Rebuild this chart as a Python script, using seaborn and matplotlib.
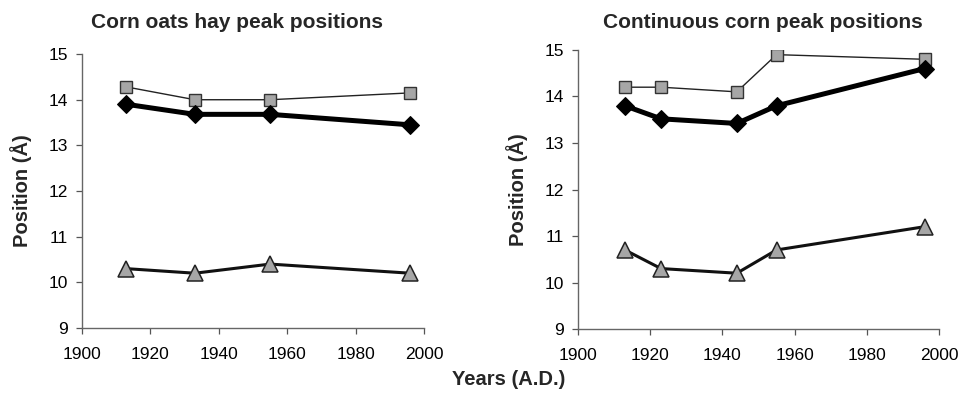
import matplotlib
matplotlib.use("Agg")
import matplotlib.pyplot as plt
import seaborn as sns

# ---- data ----
coh_years = [1913, 1933, 1955, 1996]
coh_square = [14.28, 14.0, 14.0, 14.15]
coh_diamond = [13.9, 13.68, 13.68, 13.45]
coh_triangle = [10.3, 10.2, 10.4, 10.2]

cc_years = [1913, 1923, 1944, 1955, 1996]
cc_square = [14.2, 14.2, 14.1, 14.9, 14.8]
cc_diamond = [13.8, 13.52, 13.42, 13.8, 14.6]
cc_triangle = [10.7, 10.3, 10.2, 10.7, 11.2]

titles = ["Corn oats hay peak positions", "Continuous corn peak positions"]
xticks = [1900, 1920, 1940, 1960, 1980, 2000]
yticks = [9, 10, 11, 12, 13, 14, 15]

sns.set_style("ticks")
plt.rcParams['font.family'] = ['Liberation Sans', 'DejaVu Sans']

fig = plt.figure(figsize=(9.59, 3.93), dpi=100)
ax1 = fig.add_axes([0.0855, 0.1654, 0.3566, 0.697])
ax2 = fig.add_axes([0.6027, 0.1628, 0.3764, 0.71])

styles = {
    "square": dict(marker="s", color="#222222", lw=1.0, markersize=8.5,
                   markerfacecolor="#a6a6a6", markeredgecolor="#333333", markeredgewidth=1.0),
    "diamond": dict(marker="D", color="black", lw=3.6, markersize=9.5,
                    markerfacecolor="black", markeredgecolor="black"),
    "triangle": dict(marker="^", color="#111111", lw=2.2, markersize=12,
                     markerfacecolor="#a6a6a6", markeredgecolor="#222222", markeredgewidth=1.1),
}

for ax, yrs, sq, di, tr in [(ax1, coh_years, coh_square, coh_diamond, coh_triangle),
                            (ax2, cc_years, cc_square, cc_diamond, cc_triangle)]:
    sns.lineplot(x=yrs, y=tr, ax=ax, **styles["triangle"])
    sns.lineplot(x=yrs, y=sq, ax=ax, **styles["square"])
    sns.lineplot(x=yrs, y=di, ax=ax, **styles["diamond"])
    ax.set_xlim(1900, 2000)
    ax.set_ylim(9, 15)
    ax.set_xticks(xticks)
    ax.set_yticks(yticks)
    ax.tick_params(axis="both", labelsize=12.5, colors="#555555", labelcolor="black",
                   length=4, width=0.9, direction="out")
    ax.tick_params(axis="x", pad=10)
    ax.tick_params(axis="y", pad=6)
    for s in ["left", "bottom"]:
        ax.spines[s].set_color("#666666")
        ax.spines[s].set_linewidth(1.0)
    sns.despine(ax=ax)
    ax.set_ylabel("Position (Å)", fontsize=14.5, fontweight="bold", labelpad=12)
    ax.set_xlabel("")

fig.text(0.247, 0.944, titles[0], ha="center", va="center", fontsize=15, fontweight="bold")
fig.text(0.795, 0.944, titles[1], ha="center", va="center", fontsize=15, fontweight="bold")
fig.text(0.53, 0.035, "Years (A.D.)", ha="center", va="center", fontsize=14.5, fontweight="bold")

fig.savefig("out.png", dpi=100)
